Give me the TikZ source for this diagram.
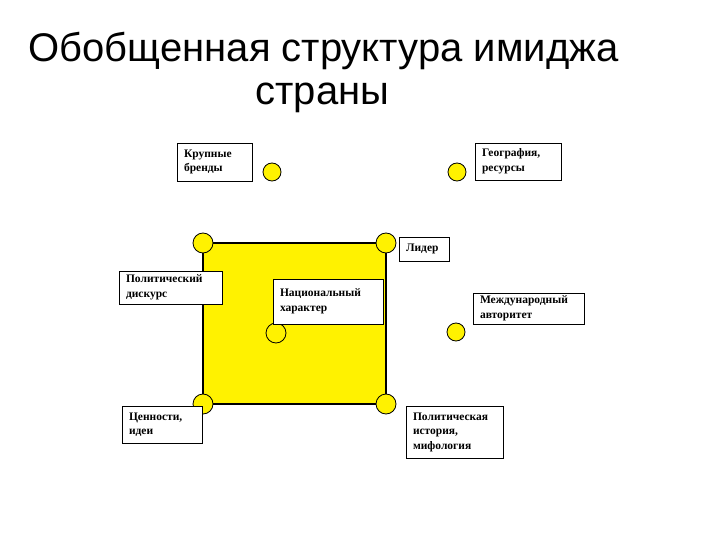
\documentclass[tikz,border=0pt]{standalone}
\usepackage{fontspec}
\setmainfont{Liberation Serif}
\newfontfamily\titlefont{Liberation Sans}
\begin{document}
\begin{tikzpicture}[x=1pt,y=-1pt,
  lbl/.style={draw=black, fill=white, line width=0.8pt, inner xsep=7pt, inner ysep=0pt,
     align=left, font=\fontsize{11.5}{14.5}\selectfont\bfseries},
  dot/.style={draw=black, fill=yellow, line width=0.8pt, circle, inner sep=0pt}
]
\useasboundingbox (0,0) rectangle (720,540);
% title
\node[anchor=base, font=\titlefont\fontsize{40}{48}\selectfont, inner sep=0pt] (t1) at (323.5,62) {Обобщенная структура имиджа};
\node[anchor=base, font=\titlefont\fontsize{40}{48}\selectfont, inner sep=0pt] (t2) at (322.5,105) {страны};
% square
\draw[fill=yellow, draw=black, line width=1.2pt] (203,243) rectangle (386,404);
% circles
\node[dot, minimum size=20pt] (c3) at (203,243) {};
\node[dot, minimum size=20pt] (c4) at (386,243) {};
\node[dot, minimum size=20pt] (c5) at (276,333) {};
\node[dot, minimum size=20pt] (c7) at (203,404) {};
\node[dot, minimum size=20pt] (c8) at (386,404) {};
\node[dot, minimum size=18pt] (c1) at (272,172) {};
\node[dot, minimum size=18pt] (c2) at (457,172) {};
\node[dot, minimum size=18pt] (c6) at (456,332) {};
% boxes
\node[lbl, minimum width=75pt, minimum height=38pt, text width=61pt] (brand) at (214.5,162) {Крупные\\бренды};
\node[lbl, minimum width=86pt, minimum height=37pt, text width=72pt] (geo) at (518,161.5) {География,\\ресурсы};
\node[lbl, minimum width=50pt, minimum height=24pt, text width=36pt] (leader) at (424,249) {Лидер};
\node[lbl, minimum width=103pt, minimum height=33pt, text width=89pt] (polit) at (170.5,287.5) {Политический\\дискурс};
\node[lbl, minimum width=110pt, minimum height=45pt, text width=96pt] (nat) at (328,301.5) {Национальный\\характер};
\node[lbl, minimum width=111pt, minimum height=31pt, text width=97pt] (intl) at (528.5,308.5) {Международный\\авторитет};
\node[lbl, minimum width=80pt, minimum height=37pt, text width=66pt] (values) at (162,424.5) {Ценности,\\идеи};
\node[lbl, minimum width=97pt, minimum height=52pt, text width=83pt] (hist) at (454.5,432) {Политическая\\история,\\мифология};
\end{tikzpicture}
\end{document}
